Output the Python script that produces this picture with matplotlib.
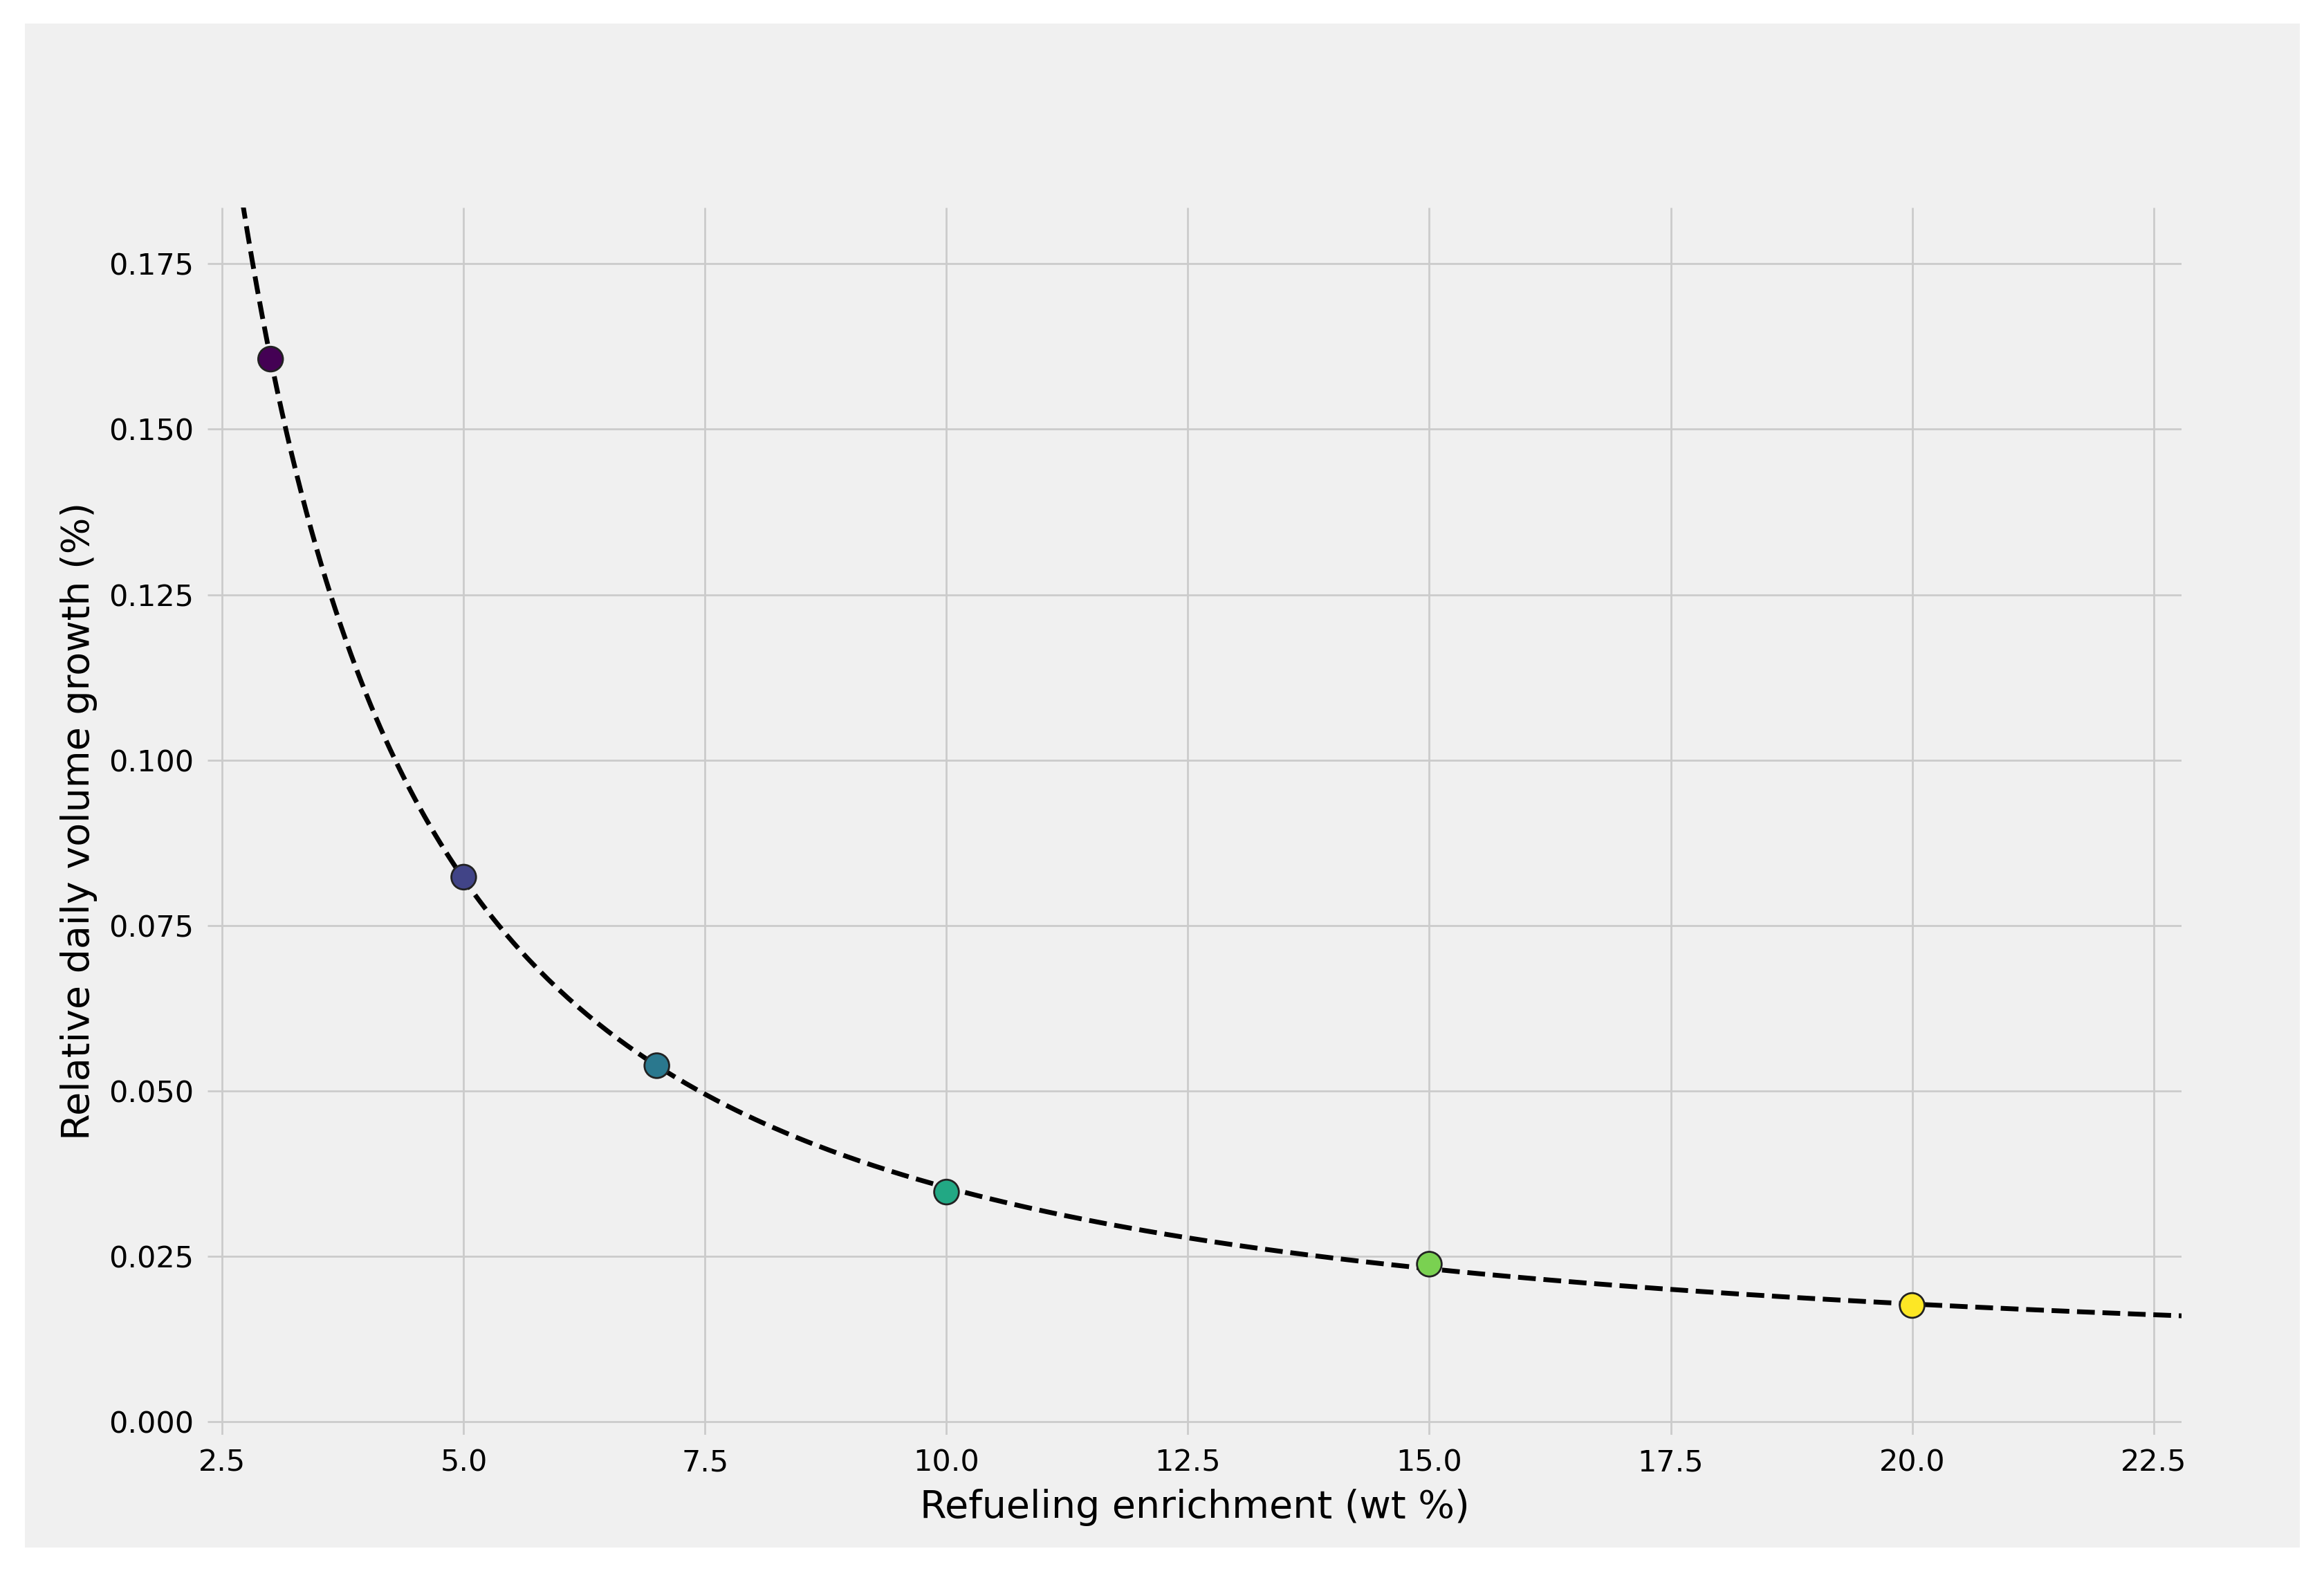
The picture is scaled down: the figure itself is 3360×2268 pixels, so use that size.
import matplotlib
matplotlib.use("Agg")
import matplotlib.pyplot as plt
from matplotlib.patches import Rectangle
import numpy as np

# refueling enrichment (wt %) and relative daily volume growth (%)
enrichment = [3, 5, 7, 10, 15, 20]
growth = [0.1606, 0.0823, 0.0538, 0.0347, 0.0238, 0.01756]

plt.style.use("fivethirtyeight")

fig = plt.figure(figsize=(16.8, 11.34), dpi=200)
fig.patch.set_facecolor("white")
fig.patches.append(Rectangle((0.0107, 0.0137), 0.979, 0.9713, transform=fig.transFigure,
                             facecolor="#f0f0f0", edgecolor="none", zorder=-10))

ax = fig.add_axes([0.0893, 0.0855, 0.8494, 0.7822])
ax.set_facecolor("#f0f0f0")

# power-law fit y = a * x**-b + d
x = np.array(enrichment, dtype=float)
y = np.array(growth)
best = None
for b in np.linspace(0.5, 3.0, 501):
    A = np.column_stack([x ** -b, np.ones_like(x)])
    coef, res, _, _ = np.linalg.lstsq(A, y, rcond=None)
    err = np.sum((A @ coef - y) ** 2)
    if best is None or err < best[0]:
        best = (err, b, coef)
_, b, (a, d) = best

xlim = (2.347, 22.79)
xf = np.linspace(2.4, xlim[1], 400)
ax.plot(xf, a * xf ** -b + d, color="black", linestyle="--", linewidth=2.5, zorder=2)

colors = plt.cm.viridis(np.linspace(0, 1, len(enrichment)))
ax.scatter(enrichment, growth, c=colors, s=165, edgecolors="#222222", linewidths=1.0, zorder=3)

ax.set_xlim(*xlim)
ax.set_ylim(-0.002, 0.1835)
ax.set_xticks([2.5, 5, 7.5, 10, 12.5, 15, 17.5, 20, 22.5])
ax.set_yticks([0, 0.025, 0.05, 0.075, 0.1, 0.125, 0.15, 0.175])
ax.tick_params(labelsize=15.5, pad=7)
ax.grid(True, color="#cbcbcb", linewidth=1.0)
for s in ax.spines.values():
    s.set_visible(False)

ax.set_xlabel("Refueling enrichment (wt %)", fontsize=20, labelpad=6)
ax.set_ylabel("Relative daily volume growth (%)", fontsize=20, labelpad=6)

fig.savefig("out.png", dpi=200, facecolor=fig.get_facecolor())
